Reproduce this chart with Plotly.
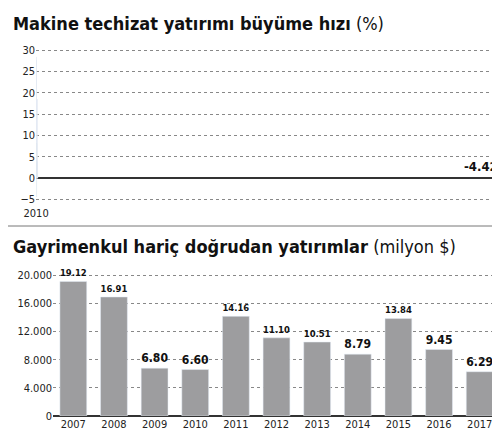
import plotly.graph_objects as go

# makine techizat yatirimi buyume hizi (%)
years_top = ['2010', '2011', '2012', '2013', '2014', '2015', '2016', '2017']
growth = [27.63, 28.44, -4.42, 8.10, 3.87, 18.51, 1.15, 0.69]

# gayrimenkul haric dogrudan yatirimlar (milyon $)
years_bot = ['2007', '2008', '2009', '2010', '2011', '2012', '2013', '2014', '2015', '2016', '2017']
fdi = [19120, 16910, 6800, 6600, 14160, 11100, 10510, 8790, 13840, 9450, 6290]
fdi_labels = ['19.12', '16.91', '6.80', '6.60', '14.16', '11.10', '10.51', '8.79', '13.84', '9.45', '6.29']

H = 442
def py(p):
    return 1 - p / H

bar_col = '#9d9d9f'
fnt = 'DejaVu Sans Condensed'
lab_font = dict(family=fnt, size=13, color='#111')

fig = go.Figure()
fig.add_trace(go.Bar(x=years_top, y=growth, marker_color=bar_col, width=0.55,
                     text=['<b>%.2f</b>' % v if v >= 0 else '' for v in growth],
                     textposition='outside', textfont=lab_font,
                     cliponaxis=False, xaxis='x', yaxis='y'))
fig.add_trace(go.Bar(x=years_bot, y=fdi, marker_color=bar_col, width=0.66,
                     text=['<b>%s</b>' % s for s in fdi_labels], textposition='outside',
                     textfont=lab_font, cliponaxis=False, xaxis='x2', yaxis='y2'))

grid = dict(showgrid=True, gridcolor='#888', griddash='dot', gridwidth=1,
            zeroline=True, zerolinecolor='#333', zerolinewidth=1.5, automargin=False,
            tickfont=dict(family=fnt, size=11, color='#222'), fixedrange=True)

# labels of negative bars sit above the zero line
neg_ann = [dict(x=yr, y=0, xref='x', yref='y', yanchor='bottom', showarrow=False,
                text='<b>%.2f</b>' % v, font=lab_font, yshift=2)
           for yr, v in zip(years_top, growth) if v < 0]

fig.update_layout(
    width=500, height=H, margin=dict(l=0, r=0, t=0, b=0),
    paper_bgcolor='white', plot_bgcolor='white', showlegend=False,
    font=dict(family=fnt),
    xaxis=dict(domain=[28/500, 492/500], anchor='y', showgrid=False, automargin=False,
               tickfont=dict(family=fnt, size=11, color='#222')),
    yaxis=dict(domain=[py(197), py(38)], range=[-6.3, 31], tickvals=[-5, 0, 5, 10, 15, 20, 25, 30],
               anchor='x', **grid),
    xaxis2=dict(domain=[45/500, 492/500], anchor='y2', showgrid=False, automargin=False,
                tickfont=dict(family=fnt, size=11, color='#222')),
    yaxis2=dict(domain=[py(408), py(263)], range=[0, 20600],
                tickvals=[0, 4000, 8000, 12000, 16000, 20000],
                ticktext=['0', '4.000', '8.000', '12.000', '16.000', '20.000'],
                anchor='x2', **grid),
    annotations=[
        dict(x=3/500, y=py(3), xref='paper', yref='paper', xanchor='left', yanchor='top',
             showarrow=False, font=dict(family=fnt, size=18, color='#111'),
             text='<b>Makine techizat yatırımı büyüme hızı</b> (%)'),
        dict(x=3/500, y=py(226), xref='paper', yref='paper', xanchor='left', yanchor='top',
             showarrow=False, font=dict(family=fnt, size=18, color='#111'),
             text='<b>Gayrimenkul hariç doğrudan yatırımlar</b> (milyon $)'),
    ] + neg_ann,
    shapes=[
        dict(type='line', xref='paper', yref='paper', x0=0, x1=1, y0=py(218), y1=py(218),
             line=dict(color='#777', width=1)),
        dict(type='line', xref='paper', yref='paper', x0=0, x1=1, y0=py(439), y1=py(439),
             line=dict(color='#111', width=4)),
    ],
)

fig.write_html('out.html')
